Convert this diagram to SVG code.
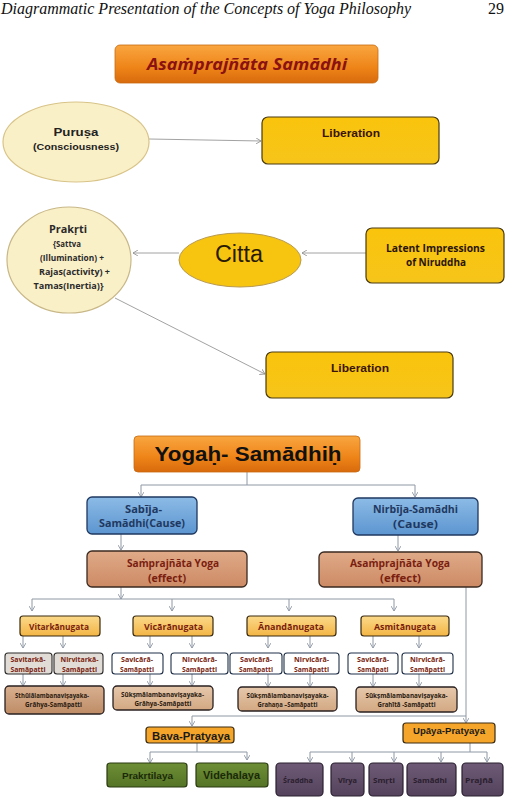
<svg xmlns="http://www.w3.org/2000/svg" width="509" height="800" viewBox="0 0 509 800">
<defs>
<linearGradient id="gOrange" x1="0" y1="0" x2="0" y2="1"><stop offset="0" stop-color="#F9A640"/><stop offset="0.6" stop-color="#EE8418"/><stop offset="1" stop-color="#D86A0C"/></linearGradient>
<linearGradient id="gGold" x1="0" y1="0" x2="0" y2="1"><stop offset="0" stop-color="#FAC40C"/><stop offset="1" stop-color="#F6C51A"/></linearGradient>
<linearGradient id="gBlue" x1="0" y1="0" x2="0" y2="1"><stop offset="0" stop-color="#8CBBE6"/><stop offset="1" stop-color="#5C95D0"/></linearGradient>
<linearGradient id="gBrown" x1="0" y1="0" x2="0" y2="1"><stop offset="0" stop-color="#E0AA88"/><stop offset="1" stop-color="#CC8A64"/></linearGradient>
<linearGradient id="gAnu" x1="0" y1="0" x2="0" y2="1"><stop offset="0" stop-color="#FBD98A"/><stop offset="1" stop-color="#F3B545"/></linearGradient>
<linearGradient id="gTan" x1="0" y1="0" x2="0" y2="1"><stop offset="0" stop-color="#E6C8AC"/><stop offset="1" stop-color="#D2A882"/></linearGradient>
<linearGradient id="gTanDark" x1="0" y1="0" x2="0" y2="1"><stop offset="0" stop-color="#D8B090"/><stop offset="1" stop-color="#BE8C66"/></linearGradient>
<linearGradient id="gGreen" x1="0" y1="0" x2="0" y2="1"><stop offset="0" stop-color="#6E8E36"/><stop offset="1" stop-color="#557426"/></linearGradient>
<linearGradient id="gPurple" x1="0" y1="0" x2="0" y2="1"><stop offset="0" stop-color="#6E5A76"/><stop offset="1" stop-color="#54425C"/></linearGradient>
<marker id="arr" markerWidth="6" markerHeight="6" refX="5" refY="3" orient="auto" markerUnits="userSpaceOnUse">
<path d="M0,0 L5,3 L0,6" fill="none" stroke="#8a8a8a" stroke-width="0.8"/>
</marker>
<marker id="arr2" markerWidth="6" markerHeight="6" refX="5" refY="3" orient="auto" markerUnits="userSpaceOnUse">
<path d="M0,0 L5,3 L0,6" fill="none" stroke="#8e98a6" stroke-width="0.9"/>
</marker>
</defs>
<style>
.hdr{font-family:"Liberation Serif",serif;font-style:italic;font-size:16px;fill:#111}
.s{font-family:"Liberation Sans",Arial,sans-serif;font-weight:bold;text-anchor:middle}
.o{font-family:"Open Sans","Liberation Sans",sans-serif;font-weight:bold;text-anchor:middle}
.c1{stroke:#8a8a8a;stroke-width:0.8;fill:none}
.c2{stroke:#8e98a6;stroke-width:1;fill:none}
.title{stroke:#C86A10;stroke-width:0.8}
.gold{fill:url(#gGold);stroke:#4a3a10;stroke-width:1.2}
.blue{fill:url(#gBlue);stroke:#1F3860;stroke-width:1.3}
.brown{fill:url(#gBrown);stroke:#3a2a20;stroke-width:1.3}
.anu{fill:url(#gAnu);stroke:#3a2a10;stroke-width:1.2}
.sam{fill:#FFFFFF;stroke:#1F3048;stroke-width:1.1}
.samg{fill:#E2DCD6;stroke:#2a2a2a;stroke-width:1.1}
.tan{fill:url(#gTan);stroke:#2a2020;stroke-width:1.3}
.tand{fill:url(#gTanDark);stroke:#2a2020;stroke-width:1.3}
.pr{fill:#F5A62A;stroke:#3a2a10;stroke-width:1.2}
.grn{fill:url(#gGreen);stroke:#2a3a10;stroke-width:1.2}
.pur{fill:url(#gPurple);stroke:#2a2030;stroke-width:1.2}
.red{fill:#7A1E10}
</style>
<rect width="509" height="800" fill="#FFFFFF"/>
<text class="hdr" x="1" y="14" textLength="410" lengthAdjust="spacingAndGlyphs">Diagrammatic Presentation of the Concepts of Yoga Philosophy</text>
<text class="hdr" x="488" y="14" style="font-style:normal">29</text>

<g id="connectors">
<line class="c1" x1="149" y1="139" x2="261" y2="141" marker-end="url(#arr)"/>
<line class="c1" x1="179" y1="253" x2="133" y2="253" marker-end="url(#arr)"/>
<line class="c1" x1="366" y1="253" x2="302" y2="253" marker-end="url(#arr)"/>
<line class="c1" x1="115" y1="298" x2="265" y2="374" marker-end="url(#arr)"/>
<path class="c2" d="M247,472 V485 M141,485 H415"/>
<line class="c2" x1="141" y1="485" x2="141" y2="497" marker-end="url(#arr2)"/>
<line class="c2" x1="415" y1="485" x2="415" y2="497" marker-end="url(#arr2)"/>
<line class="c2" x1="121" y1="534" x2="121" y2="550" marker-end="url(#arr2)"/>
<line class="c2" x1="398" y1="535" x2="398" y2="551" marker-end="url(#arr2)"/>
<line class="c2" x1="121" y1="587" x2="121" y2="599" marker-end="url(#arr2)"/>
<path class="c2" d="M32,599 H394"/>
<line class="c2" x1="32" y1="599" x2="32" y2="611" marker-end="url(#arr2)"/>
<line class="c2" x1="172" y1="599" x2="172" y2="611" marker-end="url(#arr2)"/>
<line class="c2" x1="289" y1="599" x2="289" y2="611" marker-end="url(#arr2)"/>
<line class="c2" x1="394" y1="599" x2="394" y2="611" marker-end="url(#arr2)"/>
<line class="c2" x1="23" y1="636" x2="23" y2="648" marker-end="url(#arr2)"/>
<line class="c2" x1="63" y1="636" x2="63" y2="648" marker-end="url(#arr2)"/>
<line class="c2" x1="150" y1="636" x2="150" y2="648" marker-end="url(#arr2)"/>
<line class="c2" x1="192" y1="636" x2="192" y2="648" marker-end="url(#arr2)"/>
<line class="c2" x1="268" y1="636" x2="268" y2="648" marker-end="url(#arr2)"/>
<line class="c2" x1="310" y1="636" x2="310" y2="648" marker-end="url(#arr2)"/>
<line class="c2" x1="373" y1="636" x2="373" y2="648" marker-end="url(#arr2)"/>
<line class="c2" x1="419" y1="636" x2="419" y2="648" marker-end="url(#arr2)"/>
<line class="c2" x1="23" y1="674" x2="23" y2="686" marker-end="url(#arr2)"/>
<line class="c2" x1="63" y1="674" x2="63" y2="686" marker-end="url(#arr2)"/>
<line class="c2" x1="150" y1="674" x2="150" y2="686" marker-end="url(#arr2)"/>
<line class="c2" x1="192" y1="674" x2="192" y2="686" marker-end="url(#arr2)"/>
<line class="c2" x1="268" y1="674" x2="268" y2="687" marker-end="url(#arr2)"/>
<line class="c2" x1="310" y1="674" x2="310" y2="687" marker-end="url(#arr2)"/>
<line class="c2" x1="373" y1="674" x2="373" y2="687" marker-end="url(#arr2)"/>
<line class="c2" x1="419" y1="674" x2="419" y2="687" marker-end="url(#arr2)"/>
<path class="c2" d="M466,587 V716 M192,716 H466"/>
<line class="c2" x1="192" y1="716" x2="192" y2="726" marker-end="url(#arr2)"/>
<line class="c2" x1="466" y1="716" x2="466" y2="723" marker-end="url(#arr2)"/>
<path class="c2" d="M197,743 V752 M150,752 H247"/>
<line class="c2" x1="150" y1="752" x2="150" y2="763" marker-end="url(#arr2)"/>
<line class="c2" x1="247" y1="752" x2="247" y2="760" marker-end="url(#arr2)"/>
<path class="c2" d="M470,743 V752 M310,752 H487"/>
<line class="c2" x1="310" y1="752" x2="310" y2="762" marker-end="url(#arr2)"/>
<line class="c2" x1="352" y1="752" x2="352" y2="762" marker-end="url(#arr2)"/>
<line class="c2" x1="394" y1="752" x2="394" y2="762" marker-end="url(#arr2)"/>
<line class="c2" x1="441" y1="752" x2="441" y2="762" marker-end="url(#arr2)"/>
<line class="c2" x1="487" y1="752" x2="487" y2="762" marker-end="url(#arr2)"/>
</g>

<g id="title1">
<rect class="title" x="115" y="45" width="263" height="38" rx="5" fill="url(#gOrange)"/>
<text class="o" x="247" y="70" font-size="16.5" font-style="italic" fill="#8B1212" textLength="200" lengthAdjust="spacingAndGlyphs">Asaṁprajñāta Samādhi</text>
</g>
<g id="purusa">
<ellipse cx="76" cy="142" rx="73" ry="40" fill="#FAF0C8" stroke="#D8C488" stroke-width="1.2"/>
<text class="s" x="76" y="136" font-size="11" fill="#222" textLength="45" lengthAdjust="spacingAndGlyphs">Puruṣa</text>
<text class="s" x="76" y="150" font-size="9.5" fill="#222" textLength="86" lengthAdjust="spacingAndGlyphs">(Consciousness)</text>
</g>
<g id="liberation1">
<rect class="gold" x="262" y="117" width="177" height="47" rx="6"/>
<text class="s" x="351" y="137" font-size="11" fill="#3a1408" textLength="58" lengthAdjust="spacingAndGlyphs">Liberation</text>
</g>
<g id="prakrti">
<ellipse cx="69" cy="260" rx="62" ry="53" fill="#FAF0C8" stroke="#C8B888" stroke-width="1.2"/>
<text class="o" x="68" y="233" font-size="10.5" fill="#2a2a2a" textLength="38" lengthAdjust="spacingAndGlyphs">Prakṛti</text>
<text class="o" x="67" y="247" font-size="9.5" fill="#2a2a2a" textLength="28" lengthAdjust="spacingAndGlyphs">{Sattva</text>
<text class="o" x="72" y="261" font-size="9.5" fill="#2a2a2a" textLength="64" lengthAdjust="spacingAndGlyphs">(Illumination) +</text>
<text class="o" x="74.5" y="275" font-size="9.5" fill="#2a2a2a" textLength="71" lengthAdjust="spacingAndGlyphs">Rajas(activity) +</text>
<text class="o" x="68.5" y="289" font-size="9.5" fill="#2a2a2a" textLength="70" lengthAdjust="spacingAndGlyphs">Tamas(Inertia)}</text>
</g>
<g id="citta">
<ellipse cx="240" cy="260" rx="61" ry="27" fill="#F7C510" stroke="#B89A50" stroke-width="1"/>
<text x="239" y="262" font-family="Liberation Sans, Arial, sans-serif" font-size="23" text-anchor="middle" fill="#2a1a00" textLength="48" lengthAdjust="spacingAndGlyphs">Citta</text>
</g>
<g id="latent">
<rect class="gold" x="366" y="228" width="138" height="55" rx="6"/>
<text class="o" x="435.5" y="252" font-size="10" fill="#2a1408" textLength="99" lengthAdjust="spacingAndGlyphs">Latent Impressions</text>
<text class="o" x="436" y="265.5" font-size="10" fill="#2a1408" textLength="60" lengthAdjust="spacingAndGlyphs">of Niruddha</text>
</g>
<g id="liberation2">
<rect class="gold" x="266" y="352" width="187" height="46" rx="6"/>
<text class="s" x="360" y="372" font-size="11" fill="#3a1408" textLength="58" lengthAdjust="spacingAndGlyphs">Liberation</text>
</g>

<g id="yogah">
<rect class="title" x="134" y="436" width="226" height="36" rx="4" fill="url(#gOrange)"/>
<text class="s" x="248" y="461" font-size="21" fill="#111" textLength="187" lengthAdjust="spacingAndGlyphs">Yogaḥ- Samādhiḥ</text>
</g>
<g id="sabija">
<rect class="blue" x="87" y="497" width="110" height="37" rx="5"/>
<text class="o" x="143.5" y="513" font-size="10.5" fill="#1F3860" textLength="37" lengthAdjust="spacingAndGlyphs">Sabīja-</text>
<text class="o" x="142" y="527" font-size="10.5" fill="#1F3860" textLength="86" lengthAdjust="spacingAndGlyphs">Samādhi(Cause)</text>
</g>
<g id="nirbija">
<rect class="blue" x="353" y="498" width="125" height="37" rx="5"/>
<text class="o" x="415.5" y="513" font-size="10.5" fill="#1F3860" textLength="85" lengthAdjust="spacingAndGlyphs">Nirbīja-Samādhi</text>
<text class="o" x="415.5" y="528" font-size="11" fill="#1F3860" textLength="45" lengthAdjust="spacingAndGlyphs">(Cause)</text>
</g>
<g id="samprajnata">
<rect class="brown" x="87" y="551" width="160" height="36" rx="5"/>
<text class="o red" x="173" y="567" font-size="10.5" textLength="92" lengthAdjust="spacingAndGlyphs">Saṁprajñāta Yoga</text>
<text class="o red" x="167" y="582" font-size="10.5" textLength="38" lengthAdjust="spacingAndGlyphs">(effect)</text>
</g>
<g id="asamprajnata">
<rect class="brown" x="319" y="552" width="163" height="35" rx="5"/>
<text class="o red" x="400" y="567" font-size="10.5" textLength="100" lengthAdjust="spacingAndGlyphs">Asaṁprajñāta Yoga</text>
<text class="o red" x="400.5" y="582" font-size="10.5" textLength="41" lengthAdjust="spacingAndGlyphs">(effect)</text>
</g>

<g id="vitarkanugata"><rect class="anu" x="20" y="616" width="80" height="20" rx="3"/><text class="o red" x="59" y="630" font-size="9.5" textLength="60" lengthAdjust="spacingAndGlyphs">Vitarkānugata</text></g>
<g id="vicaranugata"><rect class="anu" x="133" y="616" width="80" height="20" rx="3"/><text class="o red" x="173.5" y="630" font-size="9.5" textLength="59" lengthAdjust="spacingAndGlyphs">Vicārānugata</text></g>
<g id="anandanugata"><rect class="anu" x="247" y="616" width="89" height="20" rx="3"/><text class="o red" x="291" y="630" font-size="9.5" textLength="66" lengthAdjust="spacingAndGlyphs">Ānandānugata</text></g>
<g id="asmitanugata"><rect class="anu" x="361" y="616" width="88" height="20" rx="3"/><text class="o red" x="405" y="630" font-size="9.5" textLength="62" lengthAdjust="spacingAndGlyphs">Asmitānugata</text></g>

<g id="savitarka"><rect class="samg" x="5" y="653" width="47" height="21" rx="3"/><text class="o red" x="28" y="662" font-size="7" textLength="35" lengthAdjust="spacingAndGlyphs">Savitarkā-</text><text class="o red" x="28" y="671.5" font-size="7" textLength="35" lengthAdjust="spacingAndGlyphs">Samāpatti</text></g>
<g id="nirvitarka"><rect class="samg" x="54" y="653" width="49" height="21" rx="3"/><text class="o red" x="79.5" y="662" font-size="7" textLength="38" lengthAdjust="spacingAndGlyphs">Nirvitarkā-</text><text class="o red" x="79.5" y="671.5" font-size="7" textLength="35" lengthAdjust="spacingAndGlyphs">Samāpatti</text></g>
<g id="savicara1"><rect class="sam" x="112" y="653" width="51" height="21" rx="3"/><text class="o red" x="137" y="662" font-size="7" textLength="32" lengthAdjust="spacingAndGlyphs">Savicārā-</text><text class="o red" x="137" y="671.5" font-size="7" textLength="34" lengthAdjust="spacingAndGlyphs">Samāpatti</text></g>
<g id="nirvicara1"><rect class="sam" x="171" y="653" width="57" height="21" rx="3"/><text class="o red" x="199.5" y="662" font-size="7" textLength="35" lengthAdjust="spacingAndGlyphs">Nirvicārā-</text><text class="o red" x="199.5" y="671.5" font-size="7" textLength="35" lengthAdjust="spacingAndGlyphs">Samāpatti</text></g>
<g id="savicara2"><rect class="sam" x="230" y="653" width="52" height="21" rx="3"/><text class="o red" x="256" y="662" font-size="7" textLength="32" lengthAdjust="spacingAndGlyphs">Savicārā-</text><text class="o red" x="256" y="671.5" font-size="7" textLength="34" lengthAdjust="spacingAndGlyphs">Samāpatti</text></g>
<g id="nirvicara2"><rect class="sam" x="284" y="653" width="55" height="21" rx="3"/><text class="o red" x="311.5" y="662" font-size="7" textLength="35" lengthAdjust="spacingAndGlyphs">Nirvicārā-</text><text class="o red" x="311.5" y="671.5" font-size="7" textLength="35" lengthAdjust="spacingAndGlyphs">Samāpatti</text></g>
<g id="savicara3"><rect class="sam" x="348" y="653" width="50" height="21" rx="3"/><text class="o red" x="373" y="662" font-size="7" textLength="32" lengthAdjust="spacingAndGlyphs">Savicārā-</text><text class="o red" x="373" y="671.5" font-size="7" textLength="31" lengthAdjust="spacingAndGlyphs">Samāpati</text></g>
<g id="nirvicara3"><rect class="sam" x="402" y="653" width="51" height="21" rx="3"/><text class="o red" x="427.5" y="662" font-size="7" textLength="35" lengthAdjust="spacingAndGlyphs">Nirvicārā-</text><text class="o red" x="427.5" y="671.5" font-size="7" textLength="35" lengthAdjust="spacingAndGlyphs">Samāpatti</text></g>

<g id="sthula"><rect class="tand" x="5" y="686" width="99" height="28" rx="4"/><text class="o" x="52" y="697.5" font-size="6.8" fill="#2a1a10" textLength="74" lengthAdjust="spacingAndGlyphs">Sthūlālambanaviṣayaka-</text><text class="o" x="53.5" y="707" font-size="6.8" fill="#2a1a10" textLength="57" lengthAdjust="spacingAndGlyphs">Grāhya-Samāpatti</text></g>
<g id="suksma1"><rect class="tan" x="113" y="686" width="100" height="24" rx="4"/><text class="o" x="162.5" y="696.5" font-size="6.8" fill="#2a1a10" textLength="83" lengthAdjust="spacingAndGlyphs">Sūkṣmālambanaviṣayaka-</text><text class="o" x="163" y="705.5" font-size="6.8" fill="#2a1a10" textLength="57" lengthAdjust="spacingAndGlyphs">Grāhya-Samāpatti</text></g>
<g id="suksma2"><rect class="tan" x="238" y="687" width="99" height="24" rx="4"/><text class="o" x="287.5" y="697.5" font-size="6.8" fill="#2a1a10" textLength="82" lengthAdjust="spacingAndGlyphs">Sūkṣmālambanaviṣayaka-</text><text class="o" x="287.5" y="706.5" font-size="6.8" fill="#2a1a10" textLength="60" lengthAdjust="spacingAndGlyphs">Grahaṇa –Samāpatti</text></g>
<g id="suksma3"><rect class="tan" x="356" y="687" width="101" height="25" rx="4"/><text class="o" x="406.5" y="697.5" font-size="6.8" fill="#2a1a10" textLength="82" lengthAdjust="spacingAndGlyphs">Sūkṣmālambanaviṣayaka-</text><text class="o" x="406.5" y="706.5" font-size="6.8" fill="#2a1a10" textLength="58" lengthAdjust="spacingAndGlyphs">Grahītā -Samāpatti</text></g>

<g id="bava"><rect class="pr" x="146" y="727" width="88" height="16" rx="3"/><text class="s" x="191" y="739.5" font-size="10.5" fill="#1a1a1a" textLength="78" lengthAdjust="spacingAndGlyphs">Bava-Pratyaya</text></g>
<g id="upaya"><rect class="pr" x="403" y="723" width="92" height="20" rx="3"/><text class="s" x="449" y="734" font-size="9.5" fill="#1a1a1a" textLength="72" lengthAdjust="spacingAndGlyphs">Upāya-Pratyaya</text></g>

<g id="prakrtilaya"><rect class="grn" x="107" y="763" width="80" height="24" rx="3"/><text class="s" x="147.5" y="779" font-size="9.5" fill="#1a2a08" textLength="51" lengthAdjust="spacingAndGlyphs">Prakṛtilaya</text></g>
<g id="videhalaya"><rect class="grn" x="196" y="763" width="72" height="24" rx="3"/><text class="s" x="231.5" y="779" font-size="10.5" fill="#1a2a08" textLength="57" lengthAdjust="spacingAndGlyphs">Videhalaya</text></g>

<g id="sraddha"><rect class="pur" x="276" y="763" width="47" height="33" rx="4"/><text class="o" x="298" y="783" font-size="6.8" fill="#2a1e2e" textLength="30" lengthAdjust="spacingAndGlyphs">Śraddha</text></g>
<g id="virya"><rect class="pur" x="331" y="763" width="33" height="33" rx="4"/><text class="o" x="347.5" y="783" font-size="6.8" fill="#2a1e2e" textLength="19" lengthAdjust="spacingAndGlyphs">Vīrya</text></g>
<g id="smrti"><rect class="pur" x="369" y="763" width="34" height="33" rx="4"/><text class="o" x="384" y="783" font-size="6.8" fill="#2a1e2e" textLength="22" lengthAdjust="spacingAndGlyphs">Smṛti</text></g>
<g id="samadhi"><rect class="pur" x="407" y="763" width="49" height="33" rx="4"/><text class="o" x="430" y="783" font-size="6.8" fill="#2a1e2e" textLength="34" lengthAdjust="spacingAndGlyphs">Samādhi</text></g>
<g id="prajna"><rect class="pur" x="462" y="763" width="41" height="33" rx="4"/><text class="o" x="479" y="783" font-size="6.8" fill="#2a1e2e" textLength="28" lengthAdjust="spacingAndGlyphs">Prajñā</text></g>
</svg>
